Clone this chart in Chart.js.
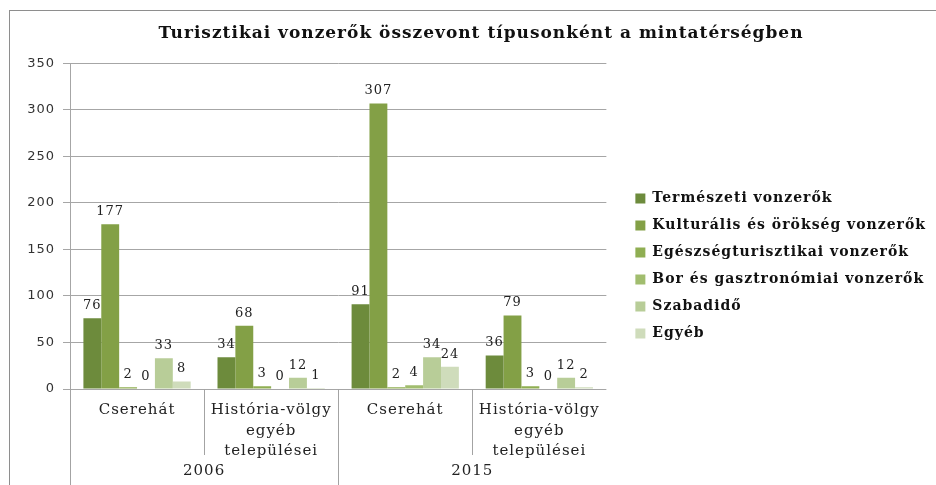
<!DOCTYPE html>
<html>
<head>
<meta charset="utf-8">
<script src="https://cdn.jsdelivr.net/npm/chart.js@4.4.0/dist/chart.umd.min.js"></script>
<style>
  html, body { margin: 0; padding: 0; background: #fff; }
  #wrap { position: relative; width: 936px; height: 485px; overflow: hidden; }
  #keret { position: absolute; left: 9px; top: 10px; right: -2px; bottom: -2px; border-left: 1px solid #8e8e8e; border-top: 1px solid #8e8e8e; pointer-events: none; }
  canvas { position: absolute; left: 0; top: 0; }
</style>
</head>
<body>
<div id="wrap">
  <canvas id="chart" width="936" height="485"></canvas>
  <div id="keret"></div>
</div>
<script>
const telepulesek = [['Cserehát'], ['História-völgy', 'egyéb', 'települései'], ['Cserehát'], ['História-völgy', 'egyéb', 'települései']];
const evek = ['2006', '2015'];
const sorozatNevek = [
  'Természeti vonzerők',
  'Kulturális és örökség vonzerők',
  'Egészségturisztikai vonzerők',
  'Bor és gasztronómiai vonzerők',
  'Szabadidő',
  'Egyéb'
];
const termeszeti = [76, 34, 91, 36];
const kulturalis = [177, 68, 307, 79];
const egeszseg = [2, 3, 2, 3];
const bor = [0, 0, 4, 0];
const szabadido = [33, 12, 34, 12];
const egyeb = [8, 1, 24, 2];
const yMax = 350;
const yLepes = 50;
const szinek = ['#6d8b3c', '#83a046', '#8fae52', '#a1bd6e', '#b8cd98', '#cfdcbb'];

const ertekek = [termeszeti, kulturalis, egeszseg, bor, szabadido, egyeb];
const serif = "'DejaVu Serif', serif";

// wider letters like the original; set after the canvas is sized so it sticks
const betukoz = {
  id: 'betukoz',
  afterInit(chart) {
    chart.ctx.letterSpacing = '1px';
  },
  beforeLayout(chart) {
    chart.ctx.letterSpacing = '1px';
    const lg = chart.legend;
    if (lg && !lg._szeles) {
      const fit = lg.fit;
      lg.fit = function () {
        this.maxWidth = 420;
        fit.call(this);
      };
      lg._szeles = true;
    }
  },
  beforeDraw(chart) {
    chart.ctx.letterSpacing = '1px';
  }
};

// vertical dividers under the x axis (two-level category axis)
const elvalasztok = {
  id: 'elvalasztok',
  afterDraw(chart) {
    const x = chart.scales.x;
    const ctx = chart.ctx;
    const n = x.ticks.length;
    ctx.save();
    ctx.strokeStyle = '#a3a3a3';
    ctx.lineWidth = 1;
    for (let i = 0; i < n; i++) {
      const px = i === 0 ? x.left : (x.getPixelForTick(i - 1) + x.getPixelForTick(i)) / 2;
      const also = i % 2 === 0 ? chart.height : x.top + 66;
      ctx.beginPath();
      ctx.moveTo(Math.round(px) + 0.5, x.top);
      ctx.lineTo(Math.round(px) + 0.5, also);
      ctx.stroke();
    }
    ctx.restore();
  }
};

// value labels above each bar
const ertekCimkek = {
  id: 'ertekCimkek',
  afterDatasetsDraw(chart) {
    const ctx = chart.ctx;
    ctx.save();
    ctx.font = `13px ${serif}`;
    ctx.fillStyle = '#222';
    ctx.textAlign = 'center';
    ctx.textBaseline = 'bottom';
    chart.data.datasets.forEach((ds, di) => {
      chart.getDatasetMeta(di).data.forEach((bar, i) => {
        ctx.fillText(String(ds.data[i]), bar.x, bar.y - 6);
      });
    });
    ctx.restore();
  }
};

new Chart(document.getElementById('chart'), {
  type: 'bar',
  data: {
    labels: telepulesek,
    datasets: sorozatNevek.map((nev, i) => ({
      label: nev,
      data: ertekek[i],
      backgroundColor: szinek[i],
      borderWidth: 0,
      categoryPercentage: 0.8,
      barPercentage: 1
    }))
  },
  options: {
    responsive: false,
    animation: false,
    devicePixelRatio: 1,
    layout: { padding: { left: 26, right: 0, top: 0, bottom: 0 } },
    plugins: {
      tooltip: { enabled: false },
      title: {
        display: true,
        text: 'Turisztikai vonzerők összevont típusonként a mintatérségben',
        color: '#111',
        font: { family: serif, size: 17, weight: 'bold' },
        padding: { top: 23, bottom: 20 }
      },
      legend: {
        position: 'right',
        title: { display: true, text: ' ', padding: 15, font: { size: 14 } },
        labels: {
          boxWidth: 10,
          boxHeight: 10,
          padding: 13,
          color: '#111',
          font: { family: serif, size: 14, weight: 'bold' }
        }
      }
    },
    scales: {
      x: {
        weight: 0,
        grid: { display: false, drawTicks: false },
        border: { display: false },
        ticks: {
          color: '#222',
          padding: 11,
          maxRotation: 0,
          font: { family: serif, size: 15, lineHeight: 1.37 }
        },
        afterFit(s) { s.height = 70; }
      },
      x2: {
        type: 'category',
        labels: evek,
        position: 'bottom',
        offset: true,
        weight: 1,
        grid: { display: false, drawTicks: false },
        border: { display: false },
        ticks: { color: '#222', padding: 3, font: { family: serif, size: 15 } },
        afterFit(s) { s.height = 26; }
      },
      y: {
        min: 0,
        max: yMax,
        ticks: {
          stepSize: yLepes,
          color: '#333',
          padding: 8,
          font: { family: "'DejaVu Sans', sans-serif", size: 13 }
        },
        grid: { color: '#a6a6a6', tickLength: 7 },
        border: { color: '#a6a6a6' },
        afterFit(s) { s.width = 44; }
      },
      rek: {
        type: 'linear',
        position: 'right',
        display: true,
        grid: { display: false, drawTicks: false },
        border: { display: false },
        ticks: { display: false },
        afterFit(s) { s.width = 16; }
      }
    }
  },
  plugins: [betukoz, elvalasztok, ertekCimkek]
});
</script>
</body>
</html>
